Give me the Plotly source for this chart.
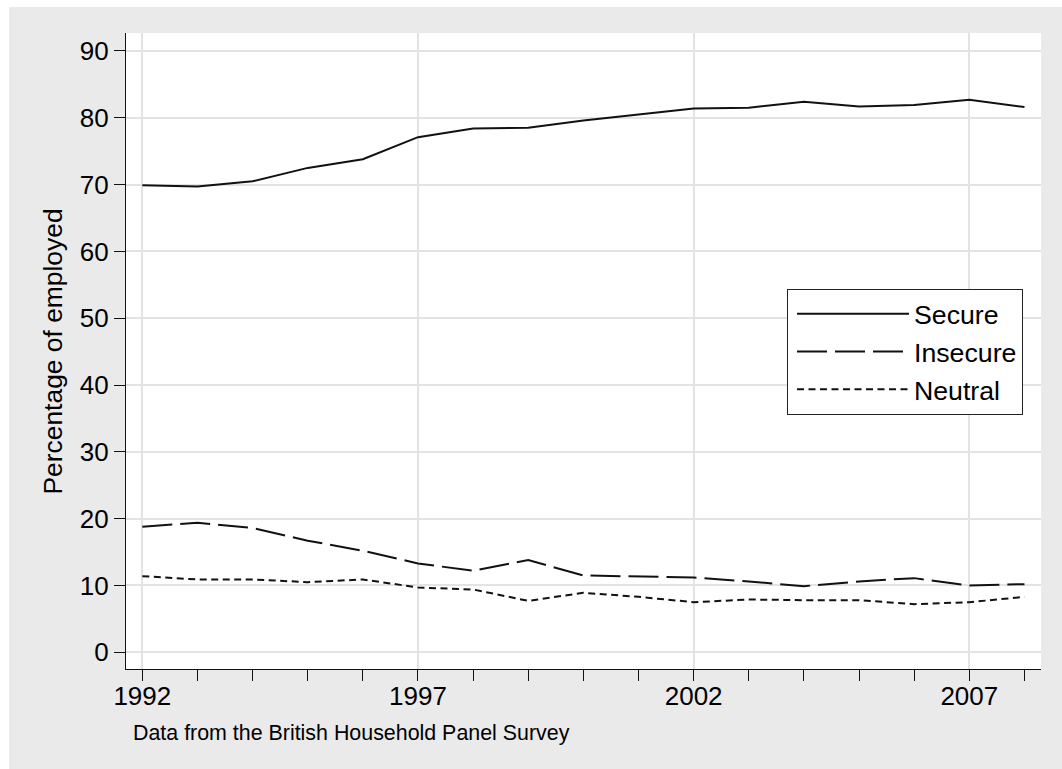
import plotly.graph_objects as go

# Job security among the employed, BHPS waves 1992-2008
years = list(range(1992, 2009))
secure = [69.9, 69.7, 70.5, 72.5, 73.8, 77.1, 78.4, 78.5, 79.6, 80.5,
          81.4, 81.5, 82.4, 81.7, 81.9, 82.7, 81.6]
insecure = [18.8, 19.4, 18.6, 16.7, 15.2, 13.3, 12.2, 13.8, 11.5, 11.3,
            11.2, 10.6, 9.9, 10.6, 11.1, 10.0, 10.2]
neutral = [11.4, 10.9, 10.9, 10.5, 10.9, 9.7, 9.4, 7.7, 8.9, 8.3,
           7.5, 7.9, 7.8, 7.8, 7.2, 7.5, 8.3]

series_names = ["Secure", "Insecure", "Neutral"]
y_ticks = list(range(0, 100, 10))
x_ticks = [1992, 1997, 2002, 2007]
caption = "Data from the British Household Panel Survey"
y_title = "Percentage of employed"

W, H = 1062, 769
L, R, T, B = 126, 21, 33, 100
PW, PH = W - L - R, H - T - B

FONT = "Liberation Sans, Arial, Helvetica, sans-serif"
GRID = "#E3E3E3"
BG = "#EAEAEA"
INK = "#111111"


def px_x(px):
    return (px - L) / PW


def px_y(py):
    return (H - B - py) / PH


fig = go.Figure()
styles = [
    dict(dash="solid"),
    dict(dash="30px,8px"),
    dict(dash="7px,4.5px"),
]
for name, vals, st in zip(series_names, [secure, insecure, neutral], styles):
    fig.add_trace(go.Scatter(
        x=years, y=vals, name=name, mode="lines",
        line=dict(color=INK, width=2, **st),
    ))

fig.update_layout(
    width=W, height=H,
    margin=dict(l=L, r=R, t=T, b=B, autoexpand=False),
    paper_bgcolor=BG, plot_bgcolor="white",
    font=dict(family=FONT, size=26, color="black"),
    showlegend=True,
    legend=dict(
        x=px_x(787), y=px_y(289), xanchor="left", yanchor="top",
        bgcolor="white", bordercolor="#222222", borderwidth=1,
        font=dict(size=26.7), itemwidth=112, indentation=4,
    ),
    xaxis=dict(
        range=[1991.704, 2008.30], tickmode="array", tickvals=x_ticks,
        ticks="outside", ticklen=11, tickwidth=1.3, tickcolor=INK,
        ticklabelstandoff=-7,
        showgrid=True, gridcolor=GRID, gridwidth=1.5,
        showline=True, linecolor=INK, linewidth=1.3,
        zeroline=False,
        minor=dict(tickmode="linear", tick0=1992, dtick=1, ticks="outside",
                   ticklen=11, tickwidth=1.3, tickcolor=INK, showgrid=False),
    ),
    yaxis=dict(
        range=[-2.5, 92.69], tickmode="array", tickvals=y_ticks,
        ticks="outside", ticklen=11, tickwidth=1.3, tickcolor=INK,
        showgrid=True, gridcolor=GRID, gridwidth=1.5,
        showline=True, linecolor=INK, linewidth=1.3,
        zeroline=False,
    ),
    shapes=[
        # white page margin above and left of the grey panel
        dict(type="rect", xref="paper", yref="paper",
             x0=px_x(0), x1=px_x(W), y0=px_y(7), y1=px_y(0),
             fillcolor="white", line=dict(width=0), layer="below"),
        dict(type="rect", xref="paper", yref="paper",
             x0=px_x(0), x1=px_x(9), y0=px_y(H), y1=px_y(0),
             fillcolor="white", line=dict(width=0), layer="below"),
    ],
    annotations=[
        dict(text=y_title, xref="paper", yref="paper", x=px_x(52), y=px_y(351.5),
             xanchor="center", yanchor="middle", textangle=-90, showarrow=False,
             font=dict(size=26.4)),
        dict(text=caption, xref="paper", yref="paper", x=px_x(131), y=px_y(733),
             xanchor="left", yanchor="middle", showarrow=False,
             font=dict(size=21.4)),
    ],
)

fig.write_html("out.html")
